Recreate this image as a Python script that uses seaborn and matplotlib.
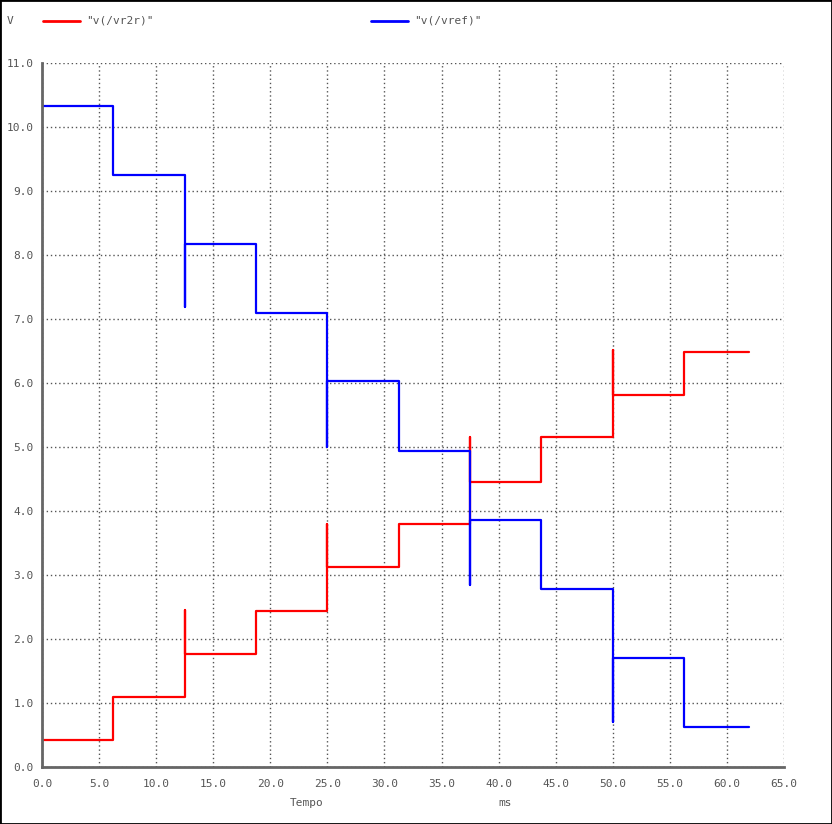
import pandas as pd
import seaborn as sns
import matplotlib.pyplot as plt
from matplotlib.patches import Rectangle

# step times (ms) and levels, glitch points included
t_red = [0, 6.25, 6.25, 12.5, 12.5, 12.5, 18.75, 18.75, 25, 25, 25, 31.25, 31.25,
         37.5, 37.5, 37.5, 43.75, 43.75, 50, 50, 50, 56.25, 56.25, 61.9]
v_red = [0.42, 0.42, 1.09, 1.09, 2.45, 1.76, 1.76, 2.44, 2.44, 3.80, 3.12, 3.12, 3.79,
         3.79, 5.15, 4.46, 4.46, 5.15, 5.15, 6.52, 5.82, 5.82, 6.49, 6.49]
t_blue = [0, 6.25, 6.25, 12.5, 12.5, 12.5, 18.75, 18.75, 25, 25, 25, 31.25, 31.25,
          37.5, 37.5, 37.5, 43.75, 43.75, 50, 50, 50, 56.25, 56.25, 61.9]
v_blue = [10.33, 10.33, 9.25, 9.25, 7.18, 8.18, 8.18, 7.10, 7.10, 5.00, 6.03, 6.03, 4.94,
          4.94, 2.85, 3.86, 3.86, 2.78, 2.78, 0.70, 1.70, 1.70, 0.62, 0.62]

sns.set_style("white")
plt.rcParams['font.family'] = ['DejaVu Sans Mono']
fig = plt.figure(figsize=(8.32, 8.24), dpi=100)
ax = fig.add_axes([0.0505, 0.0692, 0.8918, 0.8543])

sns.lineplot(x=t_red, y=v_red, sort=False, estimator=None, color='#ff0000', lw=1.6, ax=ax)
sns.lineplot(x=t_blue, y=v_blue, sort=False, estimator=None, color='#0000ff', lw=1.6, ax=ax)

ax.set_xlim(0, 65)
ax.set_ylim(0, 11)
ax.set_xticks(range(0, 66, 5))
ax.set_xticklabels([f"{x:.1f}" for x in range(0, 66, 5)])
ax.set_yticks(range(0, 12))
ax.set_yticklabels([f"{y:.1f}" for y in range(0, 12)])
ax.grid(True, color='#555555', linestyle=(0, (1, 2)), lw=1)
for s in ['top', 'right']:
    ax.spines[s].set_visible(False)
for s in ['left', 'bottom']:
    ax.spines[s].set_color('#666666')
    ax.spines[s].set_linewidth(2)
ax.tick_params(length=0, labelsize=8, colors='#555555')
ax.tick_params(axis='x', pad=9)
ax.tick_params(axis='y', pad=6)

fig.text(0.008, 0.975, "V", fontsize=8, color='#555555', va='center')
fig.lines.append(plt.Line2D([0.052, 0.096], [0.975, 0.975], color='#ff0000', lw=2, transform=fig.transFigure))
fig.text(0.104, 0.975, '"v(/vr2r)"', fontsize=8, color='#555555', va='center')
fig.lines.append(plt.Line2D([0.446, 0.49], [0.975, 0.975], color='#0000ff', lw=2, transform=fig.transFigure))
fig.text(0.498, 0.975, '"v(/vref)"', fontsize=8, color='#555555', va='center')
fig.text(0.368, 0.025, "Tempo", fontsize=8, color='#555555', ha='center', va='center')
fig.text(0.607, 0.025, "ms", fontsize=8, color='#555555', ha='center', va='center')
fig.patches.append(Rectangle((0, 0), 1, 1, fill=False, ec='black', lw=2, transform=fig.transFigure))

fig.savefig("out.png", dpi=100)
